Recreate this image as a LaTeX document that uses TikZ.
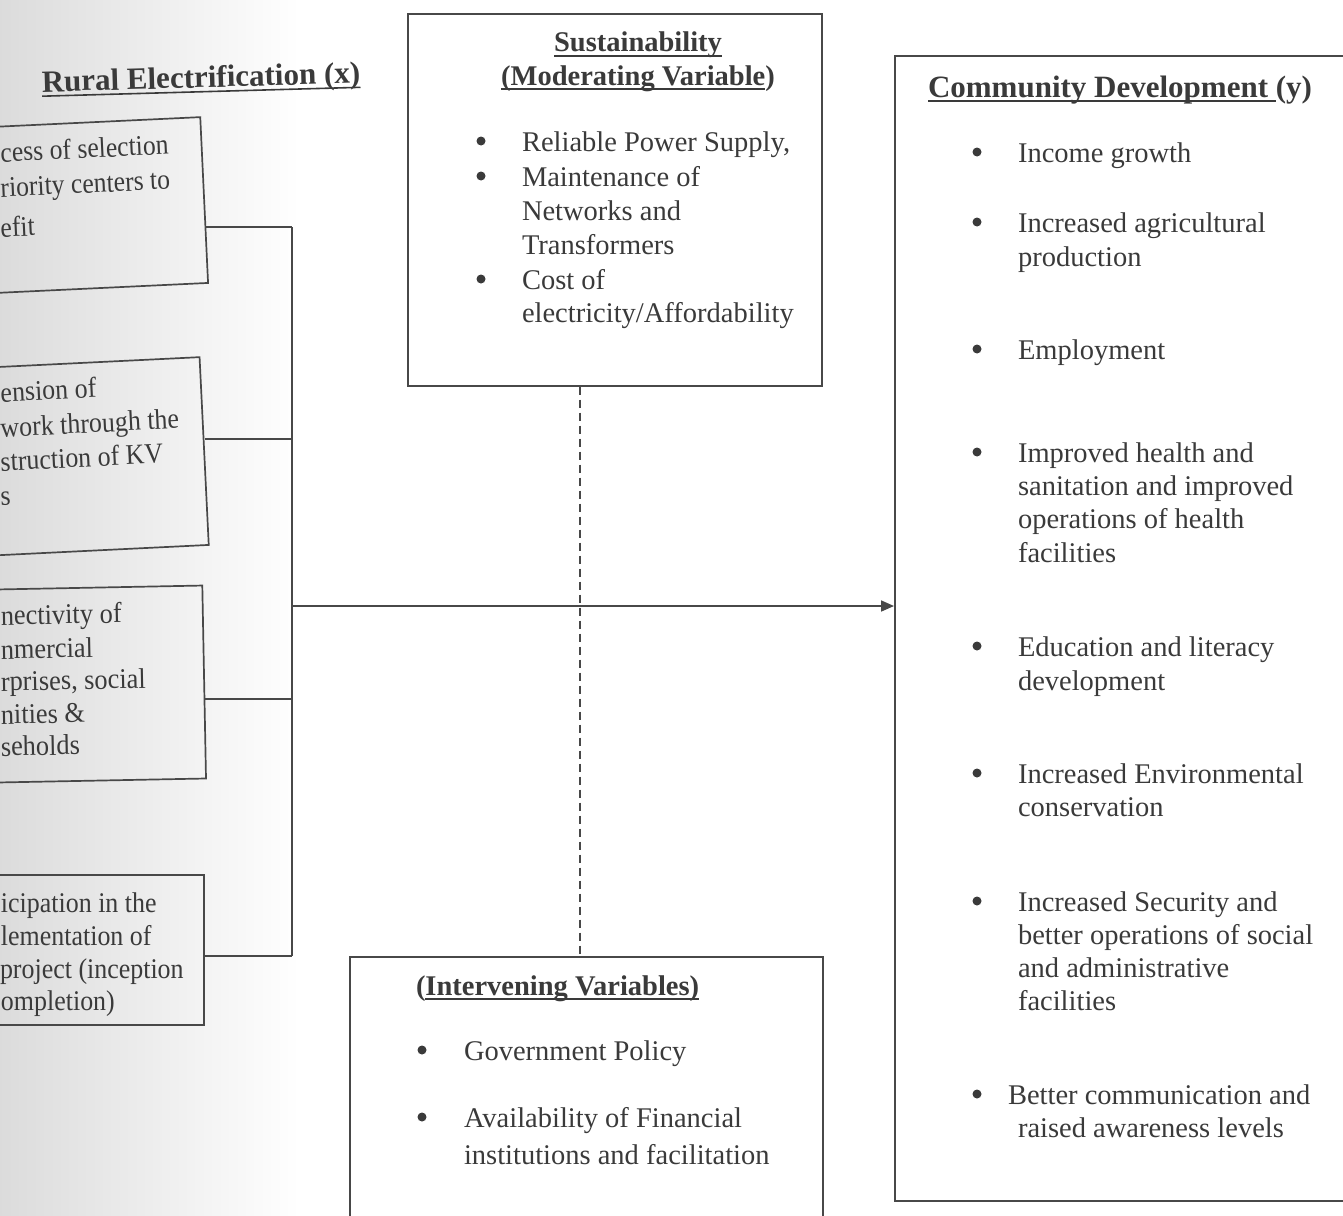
\documentclass[tikz,border=0pt]{standalone}
\usepackage{fontspec}
\setmainfont{Liberation Serif}
\usetikzlibrary{arrows.meta}
\definecolor{ink}{HTML}{3A3A3A}
\definecolor{lin}{HTML}{484848}
\newcommand{\myul}[1]{\setbox0=\hbox{#1}\rlap{\rule[-5pt]{\wd0}{1.6pt}}\box0}
\begin{document}
\begin{tikzpicture}[x=1pt,y=-1pt,
  body/.style={inner sep=0pt, outer sep=0pt, font=\fontsize{28.5}{34}\selectfont, text=ink, anchor=base west},
  hd/.style={body, font=\fontsize{31}{36}\selectfont\bfseries},
  hds/.style={body, font=\fontsize{28.5}{34}\selectfont\bfseries},
  bul/.style={circle, fill=ink, inner sep=0pt, minimum size=9pt, yshift=10pt},
  frame/.style={draw=lin, line width=1.7pt, inner sep=0pt},
  lnk/.style={draw=lin, line width=1.7pt},
  dsh/.style={draw=lin, line width=1.4pt, dash pattern=on 8pt off 5pt}
]
\useasboundingbox (0,0) rectangle (1343,1215);
\clip (0,0) rectangle (1343,1215);
\fill[white] (0,0) rectangle (1343,1215);
\shade[left color=black!14, right color=white] (0,0) rectangle (300,1215);

% ---------- left boxes (cut off at the page edge) ----------
\node[frame, rotate=2.7, anchor=east, minimum width=330pt, minimum height=166pt] (b1) at (205,200) {};
\node[frame, rotate=2.8, anchor=east, minimum width=330pt, minimum height=188pt] (b2) at (205,451) {};
\node[frame, rotate=1.1, anchor=east, minimum width=330pt, minimum height=193pt] (b3) at (205,682) {};
\node[frame, anchor=east, minimum width=330pt, minimum height=150pt] (b4) at (205,950) {};

\node[hd, rotate=1.6] (tx) at (42,92) {\myul{Rural Electrification (x)}};

\node[body, rotate=2.7, xscale=0.9] (b1a) at (1,162) {cess of selection};
\node[body, rotate=2.7, xscale=0.9] (b1b) at (1,197) {riority centers to};
\node[body, rotate=2.7, xscale=0.9] (b1c) at (1,237) {efit};

\node[body, rotate=2.8, xscale=0.91] (b2a) at (1,402) {ension of};
\node[body, rotate=2.8, xscale=0.91] (b2b) at (1,437) {work through the};
\node[body, rotate=2.8, xscale=0.91] (b2c) at (1,471) {struction of KV};
\node[body, rotate=2.8, xscale=0.91] (b2d) at (1,505) {s};

\node[body, rotate=1.1, xscale=0.925] (b3a) at (1,625) {nectivity of};
\node[body, rotate=1.1, xscale=0.925] (b3b) at (1,659) {nmercial};
\node[body, rotate=1.1, xscale=0.925] (b3c) at (1,691) {rprises, social};
\node[body, rotate=1.1, xscale=0.925] (b3d) at (1,724) {nities \&};
\node[body, rotate=1.1, xscale=0.925] (b3e) at (1,756) {seholds};

\node[body, xscale=0.91] (b4a) at (1,912) {icipation in the};
\node[body, xscale=0.91] (b4b) at (1,945) {lementation of};
\node[body, xscale=0.91] (b4c) at (0,978) {project (inception};
\node[body, xscale=0.91] (b4d) at (1,1010) {ompletion)};

% ---------- moderating variable box ----------
\node[frame, anchor=north west, minimum width=414pt, minimum height=372pt] (sus) at (407,13) {};
\node[hds, anchor=base] (st1) at (638,52) {\myul{Sustainability}};
\node[hds, anchor=base] (st2) at (638,85) {\myul{(Moderating Variable})};
\node[bul] (sb1) at (481,151) {};
\node[bul] (sb2) at (481,186) {};
\node[bul] (sb3) at (481,289) {};
\node[body] (s1) at (522,151) {Reliable Power Supply,};
\node[body] (s2) at (522,186) {Maintenance of};
\node[body] (s3) at (522,220) {Networks and};
\node[body] (s4) at (522,254) {Transformers};
\node[body] (s5) at (522,289) {Cost of};
\node[body] (s6) at (522,322) {electricity/Affordability};

% ---------- intervening variables box ----------
\node[frame, anchor=north west, minimum width=473pt, minimum height=320pt] (iv) at (349,956) {};
\node[hds] (it) at (416,995) {(\myul{Intervening Variables)}};
\node[bul] (ib1) at (422,1060) {};
\node[bul] (ib2) at (422,1127) {};
\node[body] (i1) at (464,1060) {Government Policy};
\node[body] (i2) at (464,1127) {Availability of Financial};
\node[body] (i3) at (464,1164) {institutions and facilitation};

% ---------- community development box ----------
\node[frame, anchor=north west, minimum width=560pt, minimum height=1145pt] (cd) at (894,55) {};
\node[hd] (ct) at (928,97) {\myul{Community Development\ }(y)};
\node[bul] (cb1) at (977,162) {};
\node[bul] (cb2) at (977,232) {};
\node[bul] (cb3) at (977,359) {};
\node[bul] (cb4) at (977,462) {};
\node[bul] (cb5) at (977,656) {};
\node[bul] (cb6) at (977,783) {};
\node[bul] (cb7) at (977,911) {};
\node[bul] (cb8) at (977,1104) {};
\node[body] (c1) at (1018,162) {Income growth};
\node[body] (c2) at (1018,232) {Increased agricultural};
\node[body] (c3) at (1018,266) {production};
\node[body] (c4) at (1018,359) {Employment};
\node[body] (c5) at (1018,462) {Improved health and};
\node[body] (c6) at (1018,495) {sanitation and improved};
\node[body] (c7) at (1018,528) {operations of health};
\node[body] (c8) at (1018,562) {facilities};
\node[body] (c9) at (1018,656) {Education and literacy};
\node[body] (c10) at (1018,690) {development};
\node[body] (c11) at (1018,783) {Increased Environmental};
\node[body] (c12) at (1018,816) {conservation};
\node[body] (c13) at (1018,911) {Increased Security and};
\node[body] (c14) at (1018,944) {better operations of social};
\node[body] (c15) at (1018,977) {and administrative};
\node[body] (c16) at (1018,1010) {facilities};
\node[body] (c17) at (1008,1104) {Better communication and};
\node[body] (c18) at (1018,1137) {raised awareness levels};

% ---------- connectors ----------
\coordinate (j1) at (292,227);
\coordinate (j2) at (292,439);
\coordinate (j3) at (292,699);
\coordinate (j4) at (292,956);
\coordinate (jm) at (292,606);
\draw[lnk] (j1) -- (j4);
\draw[lnk] (b1.east |- j1) -- (j1);
\draw[lnk] (b2.east |- j2) -- (j2);
\draw[lnk] (b3.east |- j3) -- (j3);
\draw[lnk] (b4.east |- j4) -- (j4);
\draw[lnk, -{Triangle[length=13pt, width=11pt]}] (jm) -- (jm -| cd.west);
\draw[dsh] (sus.south -| 580,0) -- (iv.north -| 580,0);
\end{tikzpicture}
\end{document}
